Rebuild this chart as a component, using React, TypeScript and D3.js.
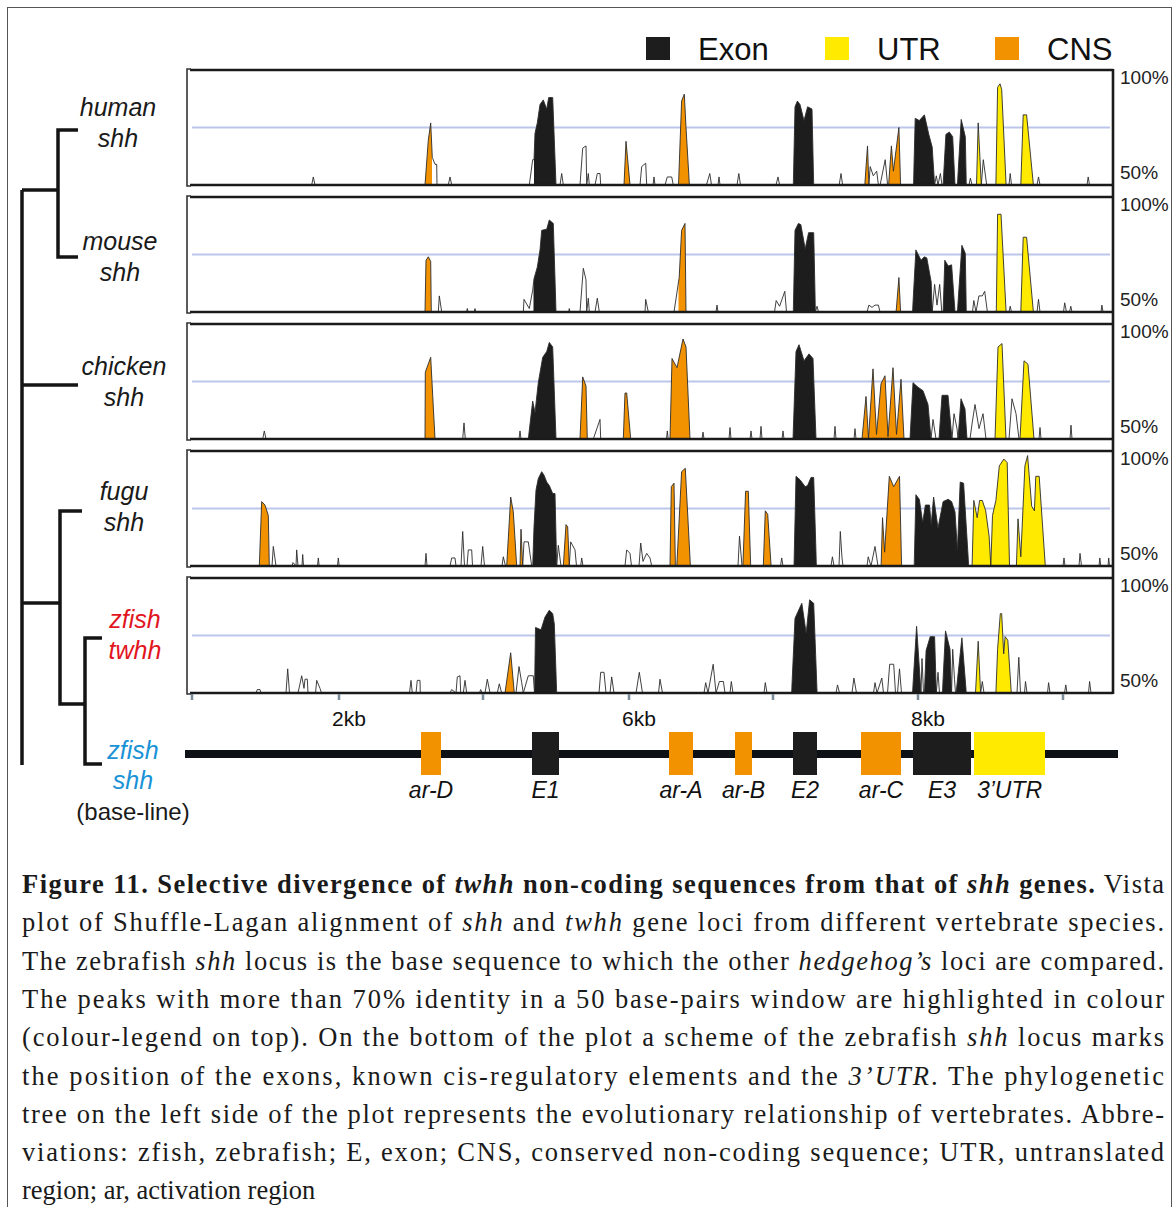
import React from "react";
import * as d3 from "d3";

// VISTA-like identity profiles, [position (bp on zfish shh), identity %]
const humanProfile = [
  [0, 50], [1197, 50], [1213, 53.5], [1230, 50],
  [2330, 50], [2363, 69.5], [2387, 77], [2403, 62], [2430, 59], [2447, 59], [2450, 50],
  [2563, 50], [2580, 53.5], [2597, 50],
  [3373, 50], [3407, 61], [3420, 61], [3430, 72.5], [3453, 77], [3480, 85], [3513, 87], [3547, 83], [3567, 88], [3607, 88], [3640, 50],
  [3680, 50], [3697, 55], [3713, 50],
  [3880, 50], [3907, 66], [3940, 67], [3947, 50], [3963, 55], [3973, 50],
  [4030, 50], [4053, 55], [4080, 55], [4087, 50],
  [4320, 50], [4340, 69], [4380, 50],
  [4480, 50], [4497, 58], [4537, 59.5], [4547, 50],
  [4610, 50], [4620, 53.5], [4630, 50],
  [4730, 50], [4753, 53.5], [4797, 53.5], [4813, 50],
  [4865, 50], [4896, 86.5], [4923, 89.5], [4940, 75], [4974, 50],
  [5144, 50], [5178, 55], [5195, 50],
  [5260, 50], [5270, 53.5], [5280, 50],
  [5450, 50], [5468, 55], [5485, 50],
  [5840, 50], [5860, 53.5], [5876, 50],
  [6013, 50], [6030, 84], [6054, 86.5], [6080, 85], [6120, 78], [6156, 84], [6200, 83], [6217, 50],
  [6472, 50], [6490, 55], [6506, 50],
  [6728, 50], [6755, 67], [6769, 50], [6782, 58], [6813, 54], [6847, 56], [6864, 50],
  [6881, 50], [6932, 61], [6956, 50],
  [6966, 50], [6994, 67], [7014, 56], [7069, 75], [7086, 50],
  [7215, 50], [7232, 79], [7273, 78], [7324, 80.5], [7368, 72], [7402, 66.5], [7426, 50],
  [7443, 54], [7460, 50], [7484, 55], [7500, 50],
  [7511, 50], [7539, 72], [7573, 73], [7607, 71], [7630, 50],
  [7654, 50], [7692, 78.5], [7733, 71], [7743, 50],
  [7770, 50], [7784, 53], [7800, 50],
  [7845, 50], [7862, 77], [7893, 50], [7913, 61], [7947, 50],
  [8039, 50], [8056, 92.5], [8080, 94], [8097, 91.5], [8141, 50],
  [8170, 50], [8182, 55], [8195, 50],
  [8288, 50], [8312, 80.5], [8346, 80.5], [8414, 50],
  [8450, 50], [8465, 53.5], [8480, 50],
  [8950, 50], [8962, 53.5], [8975, 50],
  [9210, 50],
];

const mouseProfile = [
  [0, 50],
  [2330, 50], [2340, 72.5], [2363, 74], [2387, 72], [2393, 50],
  [2463, 50], [2473, 57], [2497, 50],
  [2745, 50], [2753, 51.5], [2760, 50], [2822, 50], [2830, 51.5], [2838, 50],
  [3313, 50], [3320, 55.5], [3373, 51.5], [3407, 59.5], [3420, 64.5], [3453, 69.5], [3480, 77], [3497, 85.5], [3547, 86], [3573, 90], [3613, 88.5], [3640, 50],
  [3765, 50], [3773, 51.5], [3780, 50],
  [3880, 50], [3913, 69], [3940, 64], [3947, 50], [3963, 56], [3973, 50],
  [4030, 50], [4053, 56], [4073, 50],
  [4530, 50], [4537, 55.5], [4563, 50],
  [4820, 50], [4872, 65], [4896, 85.5], [4930, 88.5], [4940, 50],
  [5240, 50], [5250, 53], [5260, 50],
  [5825, 50], [5842, 55], [5876, 52.5], [5928, 59], [5945, 50],
  [6013, 50], [6030, 85.5], [6064, 88.5], [6088, 88], [6132, 77.5], [6166, 84.5], [6217, 84.5], [6234, 50], [6250, 52.5], [6265, 50],
  [6750, 50], [6769, 53], [6800, 52], [6830, 53], [6864, 53], [6880, 50],
  [7041, 50], [7069, 65], [7086, 50],
  [7205, 50], [7239, 77], [7290, 72.5], [7324, 74], [7348, 73.5], [7392, 63], [7402, 50], [7426, 62], [7450, 53], [7477, 62], [7498, 50],
  [7511, 50], [7528, 72.5], [7562, 70], [7596, 70.5], [7630, 50],
  [7654, 50], [7699, 79], [7733, 75.5], [7743, 50],
  [7805, 50], [7818, 55], [7840, 50], [7869, 57], [7903, 57], [7927, 59], [7954, 50],
  [8043, 50], [8056, 92.5], [8090, 92.5], [8141, 50],
  [8170, 50], [8182, 52.5], [8195, 50],
  [8288, 50], [8312, 82.5], [8346, 82.5], [8414, 50],
  [8450, 50], [8465, 55.5], [8480, 50],
  [8715, 50], [8727, 54], [8745, 50], [8775, 50], [8788, 52.5], [8800, 50],
  [9090, 50], [9099, 53], [9110, 50],
  [9210, 50],
];

const chickenProfile = [
  [0, 50], [707, 50], [723, 53.5], [740, 50],
  [2330, 50], [2333, 79], [2387, 85.5], [2407, 69], [2430, 50],
  [2707, 50], [2720, 57], [2733, 50],
  [3270, 50], [3280, 53.5], [3290, 50],
  [3363, 50], [3407, 66.5], [3430, 61.5], [3463, 74.5], [3507, 85.5], [3547, 88], [3573, 92], [3607, 90], [3640, 50],
  [3880, 50], [3907, 77], [3940, 73], [3953, 50],
  [4013, 50], [4080, 58.5], [4087, 50],
  [4313, 50], [4330, 70], [4347, 70], [4387, 50],
  [4745, 50], [4753, 53.5], [4762, 50],
  [4780, 50], [4800, 85], [4850, 81], [4910, 93.5], [4940, 90], [4980, 50],
  [5100, 50], [5110, 53], [5120, 50],
  [5370, 50], [5380, 55], [5390, 50],
  [5580, 50], [5590, 53.5], [5600, 50],
  [5680, 50], [5690, 55.5], [5700, 50],
  [5900, 50], [5910, 53.5], [5920, 50],
  [6010, 50], [6040, 88], [6070, 91], [6120, 84], [6170, 87], [6210, 85], [6240, 50],
  [6420, 50], [6430, 55.5], [6440, 50],
  [6620, 50], [6630, 54.5], [6640, 50],
  [6700, 50], [6740, 68.5], [6765, 50], [6810, 80.5], [6845, 52], [6890, 74], [6930, 77.5], [6960, 51], [7010, 81], [7045, 52], [7090, 76], [7120, 50],
  [7180, 50], [7210, 74.5], [7260, 72.5], [7310, 71], [7360, 65], [7390, 50], [7410, 58.5], [7440, 50],
  [7470, 50], [7500, 69], [7560, 69], [7600, 50], [7620, 61], [7650, 54.5],
  [7660, 50], [7690, 67.5], [7730, 63], [7750, 50],
  [7780, 50], [7800, 56.5], [7830, 65], [7870, 54.5], [7910, 61], [7940, 50],
  [8030, 50], [8060, 90], [8100, 91.5], [8140, 50],
  [8170, 50], [8200, 67.5], [8240, 61], [8270, 50],
  [8280, 50], [8320, 84], [8360, 82.5], [8420, 50],
  [8470, 50], [8480, 55], [8490, 50],
  [8780, 50], [8790, 56], [8800, 50],
  [9210, 50],
];

const fuguProfile = [
  [0, 50],
  [673, 50], [697, 78], [730, 76.5], [763, 72], [773, 50],
  [800, 50], [813, 58.5], [840, 50],
  [1000, 50], [1010, 51.5], [1040, 50], [1047, 57], [1060, 50], [1100, 50], [1107, 55], [1115, 50],
  [1255, 50], [1263, 53.5], [1272, 50],
  [1455, 50], [1463, 53.5], [1472, 50],
  [2330, 50], [2340, 55.5], [2350, 50],
  [2580, 50], [2597, 53.5], [2630, 53.5], [2640, 50],
  [2690, 50], [2707, 65], [2725, 50],
  [2750, 50], [2763, 57], [2797, 57], [2805, 50],
  [2890, 50], [2907, 58.5], [2925, 50],
  [3100, 50], [3113, 54], [3135, 50],
  [3147, 50], [3187, 80], [3213, 73.5], [3247, 50],
  [3280, 50], [3290, 66], [3307, 50], [3320, 60.5], [3363, 60.5], [3397, 50],
  [3407, 50], [3420, 67], [3440, 83], [3463, 88], [3497, 91], [3520, 89.5], [3547, 86.5], [3573, 85], [3607, 81.5], [3630, 81.5], [3647, 50], [3663, 59], [3690, 50],
  [3713, 50], [3740, 68], [3757, 67], [3773, 50], [3787, 60.5], [3830, 57], [3845, 50],
  [3887, 50], [3897, 53.5], [3910, 50],
  [4330, 50], [4347, 57], [4380, 55.5], [4395, 50],
  [4470, 50], [4487, 60], [4510, 52], [4547, 55.5], [4580, 53.5], [4597, 50],
  [4780, 50], [4793, 84.5], [4820, 86], [4834, 50],
  [4848, 50], [4896, 91], [4933, 92.5], [4984, 50],
  [5460, 50], [5475, 63], [5500, 50],
  [5509, 50], [5536, 82.5], [5563, 82.5], [5587, 50],
  [5713, 50], [5733, 74], [5757, 72.5], [5791, 50],
  [5885, 50], [5897, 53.5], [5910, 50],
  [6020, 50], [6040, 89], [6080, 87.5], [6132, 84.5], [6156, 85], [6190, 88.5], [6217, 88.5], [6244, 50],
  [6390, 50], [6404, 54], [6420, 50],
  [6470, 50], [6483, 65], [6500, 53.5], [6510, 50],
  [6750, 50], [6762, 54], [6790, 50], [6830, 58.5], [6860, 50],
  [6891, 50], [6905, 71], [6926, 56], [6973, 89], [7017, 84.5], [7075, 89], [7096, 50],
  [7222, 50], [7239, 81], [7273, 79], [7307, 69], [7334, 76.5], [7375, 76.5], [7392, 68], [7416, 80], [7460, 66.5], [7511, 78], [7562, 79], [7596, 78], [7630, 73.5], [7654, 57], [7682, 86.5], [7716, 86], [7767, 50],
  [7801, 50], [7818, 78.5], [7852, 71], [7876, 78.5], [7903, 78.5], [7937, 74], [7971, 63], [7988, 50],
  [8005, 72], [8039, 78.5], [8073, 93.5], [8118, 96.5], [8152, 95], [8175, 50],
  [8244, 50], [8260, 70.5], [8288, 54], [8329, 93.5], [8356, 98], [8397, 76], [8424, 74], [8438, 89], [8472, 89], [8533, 50],
  [8710, 50], [8720, 53.5], [8730, 50],
  [8870, 50], [8880, 55.5], [8895, 50],
  [9070, 50], [9078, 53.5], [9088, 50],
  [9160, 50], [9167, 53.5], [9175, 50],
  [9210, 50],
];

const twhhProfile = [
  [0, 50],
  [640, 50], [653, 51.5], [680, 51.5], [690, 50],
  [940, 50], [957, 60.5], [975, 50],
  [1060, 50], [1097, 57.5], [1120, 52], [1130, 56], [1153, 56], [1160, 50],
  [1235, 50], [1247, 55.5], [1280, 52], [1295, 50],
  [2175, 50], [2190, 55.5], [2203, 50], [2240, 50], [2253, 55.5], [2280, 55.5], [2283, 50],
  [2580, 50], [2597, 51.5], [2640, 50], [2653, 57], [2680, 57.5], [2687, 50],
  [2713, 50], [2730, 55.5], [2747, 50],
  [2875, 50], [2887, 51.5], [2900, 50],
  [2930, 50], [2953, 56], [2980, 50],
  [3053, 50], [3073, 54], [3097, 50],
  [3130, 50], [3187, 67.5], [3223, 50],
  [3240, 50], [3270, 61.5], [3297, 54.5], [3313, 50], [3363, 57.5], [3413, 57.5],
  [3425, 50], [3435, 78.5], [3490, 77.5], [3530, 83], [3573, 86], [3607, 84.5], [3623, 80], [3647, 50],
  [4070, 50], [4087, 59], [4120, 59], [4140, 50],
  [4180, 50], [4197, 57], [4220, 50],
  [4440, 50], [4473, 59], [4505, 50],
  [4665, 50], [4680, 56], [4705, 50],
  [5120, 50], [5137, 54.5], [5160, 50], [5212, 62.5], [5240, 50], [5274, 55], [5314, 55], [5330, 50],
  [5380, 50], [5393, 55], [5410, 50],
  [5720, 50], [5733, 54.5], [5750, 50],
  [5996, 50], [6030, 82.5], [6098, 89], [6142, 76], [6176, 90.5], [6217, 89], [6251, 50],
  [6440, 50], [6455, 53.5], [6475, 50],
  [6600, 50], [6619, 56.5], [6645, 50],
  [6815, 50], [6830, 54.5], [6850, 50], [6898, 56.5], [6915, 50],
  [6955, 50], [6977, 62.5], [7017, 62.5], [7035, 50],
  [7055, 50], [7075, 60.5], [7095, 50],
  [7205, 50], [7246, 79], [7290, 50], [7300, 65], [7315, 50],
  [7324, 50], [7341, 68.5], [7382, 74.5], [7426, 74.5], [7443, 50], [7460, 59], [7475, 50],
  [7504, 50], [7535, 77], [7580, 69], [7596, 50], [7607, 69], [7625, 56], [7635, 50],
  [7641, 50], [7699, 74], [7743, 50],
  [7835, 50], [7862, 72.5], [7886, 50], [7903, 55], [7920, 50],
  [8039, 50], [8056, 69], [8083, 84.5], [8097, 84.5], [8117, 67], [8131, 74.5], [8158, 73], [8193, 50],
  [8250, 50], [8268, 65.5], [8285, 50],
  [8325, 50], [8335, 55], [8350, 50],
  [8555, 50], [8566, 54.5], [8580, 50],
  [8725, 50], [8738, 53.5], [8750, 50],
  [8965, 50], [8976, 55], [8990, 50],
  [9210, 50],
];

// highlighted (>70% identity) segments: [type, start, end]
const humanSegments = [
  ["cns", 2330, 2400], ["exon", 3420, 3640], ["cns", 4320, 4380], ["cns", 4865, 4974],
  ["exon", 6013, 6217], ["cns", 6728, 6769], ["cns", 6966, 7086], ["exon", 7215, 7426],
  ["exon", 7511, 7630], ["exon", 7654, 7743], ["utr", 7845, 7893], ["utr", 8039, 8141], ["utr", 8288, 8414],
];
const mouseSegments = [
  ["cns", 2330, 2393], ["exon", 3415, 3640], ["cns", 4865, 4940], ["exon", 6013, 6234],
  ["cns", 7041, 7086], ["exon", 7205, 7402], ["exon", 7511, 7630], ["exon", 7654, 7743],
  ["utr", 8043, 8141], ["utr", 8288, 8414],
];
const chickenSegments = [
  ["cns", 2330, 2430], ["exon", 3363, 3640], ["cns", 3880, 3953], ["cns", 4313, 4387],
  ["cns", 4780, 4980], ["exon", 6010, 6240], ["cns", 6700, 7120], ["exon", 7180, 7390],
  ["exon", 7470, 7600], ["exon", 7660, 7750], ["utr", 8030, 8140], ["utr", 8280, 8420],
];
const fuguSegments = [
  ["cns", 673, 773], ["cns", 3147, 3247], ["cns", 3280, 3307], ["exon", 3407, 3647],
  ["cns", 3713, 3773], ["cns", 4780, 4834], ["cns", 4848, 4984], ["cns", 5509, 5587],
  ["cns", 5713, 5791], ["exon", 6020, 6244], ["cns", 6891, 7096], ["exon", 7222, 7767],
  ["utr", 7801, 8533],
];
const twhhSegments = [
  ["cns", 3130, 3223], ["exon", 3425, 3647], ["exon", 5996, 6251], ["exon", 7205, 7290],
  ["exon", 7324, 7443], ["exon", 7504, 7596], ["exon", 7641, 7743], ["utr", 7835, 7886],
  ["utr", 8039, 8193],
];

const speciesNames = [["human", "shh"], ["mouse", "shh"], ["chicken", "shh"], ["fugu", "shh"], ["zfish", "twhh"]];
const profiles = [humanProfile, mouseProfile, chickenProfile, fuguProfile, twhhProfile];
const segments = [humanSegments, mouseSegments, chickenSegments, fuguSegments, twhhSegments];
const baseName = ["zfish", "shh", "(base-line)"];

// zfish shh locus scheme
const locusExtent = [-70, 9260];
const locusFeatures = [
  ["ar-D", "cns", 2290, 2490],
  ["E1", "exon", 3400, 3670],
  ["ar-A", "cns", 4770, 5010],
  ["ar-B", "cns", 5430, 5600],
  ["E2", "exon", 6010, 6250],
  ["ar-C", "cns", 6690, 7090],
  ["E3", "exon", 7210, 7790],
  ["3’UTR", "utr", 7820, 8530],
];

const axisTicks = [0, 1470, 2910, 4370, 5810, 7260, 8710];
const axisLabels = [[1470, "2kb"], [4370, "6kb"], [7260, "8kb"]];
const legendItems = [["exon", "Exon"], ["utr", "UTR"], ["cns", "CNS"]];

const captionLines = [
  [["Figure 11. Selective divergence of ", "b"], ["twhh", "bi"], [" non-coding sequences from that of ", "b"], ["shh", "bi"], [" genes.", "b"], [" Vista", ""]],
  [["plot of Shuffle-Lagan alignment of ", ""], ["shh", "i"], [" and ", ""], ["twhh", "i"], [" gene loci from different vertebrate species.", ""]],
  [["The zebrafish ", ""], ["shh", "i"], [" locus is the base sequence to which the other ", ""], ["hedgehog’s", "i"], [" loci are compared.", ""]],
  [["The peaks with more than 70% identity in a 50 base-pairs window are highlighted in colour", ""]],
  [["(colour-legend on top). On the bottom of the plot a scheme of the zebrafish ", ""], ["shh", "i"], [" locus marks", ""]],
  [["the position of the exons, known cis-regulatory elements and the ", ""], ["3’UTR", "i"], [". The phylogenetic", ""]],
  [["tree on the left side of the plot represents the evolutionary relationship of vertebrates. Abbre-", ""]],
  [["viations: zfish, zebrafish; E, exon; CNS, conserved non-coding sequence; UTR, untranslated", ""]],
  [["region; ar, activation region", ""]],
];

const colors = { exon: "#1d1d1d", utr: "#ffea00", cns: "#f39200" };
const sans = "Liberation Sans, Arial, sans-serif";
const serif = "Liberation Serif, Times New Roman, Times, serif";

export default function App() {
  const width = 1174;
  const height = 1207;
  const panelTop0 = 70;
  const panelStep = 127;
  const panelH = 115;

  const x = d3.scaleLinear().domain([0, 9210]).range([192, 1113]);
  const y = d3.scaleLinear().domain([50, 100]).range([panelH, 0]);

  const area = d3
    .area()
    .x((d) => x(d[0]))
    .y0(y(50))
    .y1((d) => y(d[1]));
  const line = d3
    .line()
    .x((d) => x(d[0]))
    .y((d) => y(d[1]));

  const lastBase = panelTop0 + 4 * panelStep + panelH;
  const labelX = [118, 120, 124, 124, 135];
  const labelDy = [38, 45, 43, 41, 42];

  return (
    <svg
      width={width}
      height={height}
      style={{ position: "absolute", left: 0, top: 0, background: "#fff" }}
    >
      <rect x={7.5} y={7.5} width={1164} height={1220} fill="none" stroke="#555" strokeWidth={1} />

      {/* legend */}
      {legendItems.map(([type, label], i) => {
        const lx = [646, 825, 995][i];
        return (
          <g key={type}>
            <rect x={lx} y={37} width={24} height={23} fill={colors[type]} />
            <text x={lx + 52} y={60} fontFamily={sans} fontSize={31} fill="#111">
              {label}
            </text>
          </g>
        );
      })}

      {/* panels */}
      {profiles.map((prof, i) => {
        const top = panelTop0 + i * panelStep;
        return (
          <g key={i} transform={`translate(0,${top})`}>
            <defs>
              {segments[i].map(([, s, e], j) => (
                <clipPath id={`clip-${i}-${j}`} key={j}>
                  <rect x={x(s)} y={-5} width={x(e) - x(s)} height={panelH + 8} />
                </clipPath>
              ))}
            </defs>
            <line x1={192} x2={1110} y1={y(75)} y2={y(75)} stroke="#bcc6ea" strokeWidth={2} />
            {segments[i].map(([type], j) => (
              <path key={j} d={area(prof)} fill={colors[type]} clipPath={`url(#clip-${i}-${j})`} />
            ))}
            <path d={line(prof)} fill="none" stroke="#2b2b2b" strokeWidth={0.9} strokeLinejoin="round" />
            <line x1={190} x2={1113} y1={0} y2={0} stroke="#1a1a1a" strokeWidth={2.6} />
            <line x1={190} x2={1113} y1={panelH} y2={panelH} stroke="#1a1a1a" strokeWidth={2.4} />
            <path d={`M191,-1H187V${panelH + 1}H191`} fill="none" stroke="#333" strokeWidth={1.6} />
            <text x={1120} y={14} fontFamily={sans} fontSize={19} fill="#222">100%</text>
            <text x={1120} y={panelH - 6} fontFamily={sans} fontSize={19} fill="#222">50%</text>
            <text
              textAnchor="middle"
              fontFamily={sans}
              fontStyle="italic"
              fontSize={25}
              fill={i === 4 ? "#e2151f" : "#1a1a1a"}
            >
              <tspan x={labelX[i]} y={labelDy[i] + 8}>{speciesNames[i][0]}</tspan>
              <tspan x={labelX[i]} y={labelDy[i] + 39}>{speciesNames[i][1]}</tspan>
            </text>
          </g>
        );
      })}
      <line x1={1113} x2={1113} y1={panelTop0 - 1} y2={lastBase + 1} stroke="#1a1a1a" strokeWidth={2.6} />

      {/* x axis */}
      {axisTicks.map((t) => (
        <line key={t} x1={x(t)} x2={x(t)} y1={lastBase + 1} y2={lastBase + 7} stroke="#7b8b98" strokeWidth={2.5} />
      ))}
      {axisLabels.map(([t, label]) => (
        <text key={label} x={x(t) + 10} y={726} textAnchor="middle" fontFamily={sans} fontSize={21} fill="#111">
          {label}
        </text>
      ))}

      {/* locus scheme */}
      <rect x={x(locusExtent[0])} y={750} width={x(locusExtent[1]) - x(locusExtent[0])} height={8} fill="#0e1116" />
      {locusFeatures.map(([name, type, s, e]) => (
        <g key={name}>
          <rect x={x(s)} y={732} width={x(e) - x(s)} height={43} fill={colors[type]} />
          <text x={(x(s) + x(e)) / 2} y={798} textAnchor="middle" fontFamily={sans} fontStyle="italic" fontSize={23} fill="#111">
            {name}
          </text>
        </g>
      ))}

      {/* tree */}
      <g fill="none" stroke="#141414" strokeWidth={3.5}>
        <path d="M78,130H58V257H78" />
        <path d="M58,190H22" />
        <path d="M22,190V765" />
        <path d="M22,385H78" />
        <path d="M22,603H60" />
        <path d="M82,511H60V704H85" />
        <path d="M102,638H85V764H102" />
      </g>
      <text textAnchor="middle" fontFamily={sans} fontSize={25} fill="#1a92d6" fontStyle="italic">
        <tspan x={133} y={759}>{baseName[0]}</tspan>
        <tspan x={133} y={789}>{baseName[1]}</tspan>
      </text>
      <text x={133} y={820} textAnchor="middle" fontFamily={sans} fontSize={24} fill="#1a1a1a">
        {baseName[2]}
      </text>

      {/* caption */}
      {captionLines.map((segs, i) => {
        const last = i === captionLines.length - 1;
        return (
          <text
            key={i}
            x={22}
            y={893 + i * 38.3}
            fontFamily={serif}
            fontSize={26.5}
            fill="#1a1a1a"
            style={{ whiteSpace: "pre" }}
            textLength={last ? undefined : 1142}
            lengthAdjust={last ? undefined : "spacing"}
          >
            {segs.map(([t, st], j) => (
              <tspan
                key={j}
                fontWeight={st.includes("b") ? "bold" : "normal"}
                fontStyle={st.includes("i") ? "italic" : "normal"}
              >
                {t}
              </tspan>
            ))}
          </text>
        );
      })}
    </svg>
  );
}
